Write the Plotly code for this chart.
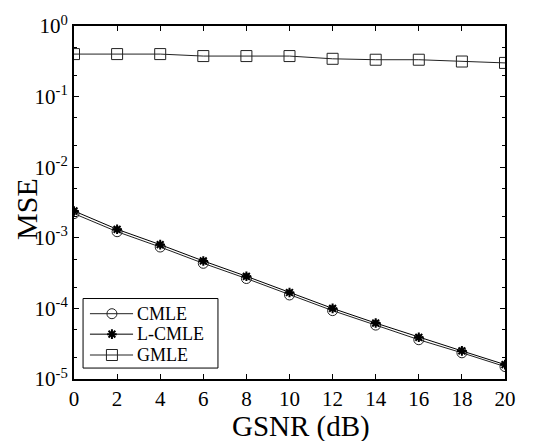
import plotly.graph_objects as go

gsnr = [0, 2, 4, 6, 8, 10, 12, 14, 16, 18, 20]
cmle = [2.2e-3, 1.22e-3, 7.4e-4, 4.35e-4, 2.65e-4, 1.55e-4, 9.3e-5, 5.8e-5, 3.6e-5, 2.35e-5, 1.5e-5]
lcmle = [2.4e-3, 1.32e-3, 8.0e-4, 4.7e-4, 2.85e-4, 1.68e-4, 1.0e-4, 6.2e-5, 3.9e-5, 2.5e-5, 1.6e-5]
gmle = [0.40, 0.40, 0.40, 0.375, 0.375, 0.375, 0.343, 0.333, 0.333, 0.314, 0.30]

series_names = ["CMLE", "L-CMLE", "GMLE"]
y_tickvals = [1e-5, 1e-4, 1e-3, 1e-2, 1e-1, 1]
y_ticktext = ["10<sup>-5</sup>", "10<sup>-4</sup>", "10<sup>-3</sup>", "10<sup>-2</sup>", "10<sup>-1</sup>", "10<sup>0</sup>"]
x_tickvals = gsnr
x_title = "GSNR (dB)"
y_title = "MSE"

font = "Liberation Serif"

styles = [
    dict(line=dict(color="#222", width=1),
         marker=dict(symbol="circle-open", size=10, color="#222", line=dict(width=1))),
    dict(line=dict(color="#000", width=1),
         marker=dict(symbol="asterisk-open", size=8, color="#000", line=dict(width=2))),
    dict(line=dict(color="#222", width=1),
         marker=dict(symbol="square-open", size=11, color="#222", line=dict(width=1))),
]

fig = go.Figure()
for name, vals, st in zip(series_names, [cmle, lcmle, gmle], styles):
    fig.add_trace(go.Scatter(x=gsnr, y=vals, name=name, mode="lines+markers",
                             showlegend=False, **st))

# manual legend (samples drawn in an overlay axis spanning [0, 1])
leg_x0, leg_x1, leg_y0, leg_y1 = 0.021, 0.334, 0.031, 0.228
row_y = [0.185, 0.127, 0.068]
line_x = [0.037, 0.137]
mark_x = 0.088
text_x = 0.143

fig.add_shape(type="rect", xref="paper", yref="paper", x0=leg_x0, x1=leg_x1, y0=leg_y0, y1=leg_y1,
              line=dict(color="black", width=1), fillcolor="rgba(0,0,0,0)", layer="above")
for name, ry, st in zip(series_names, row_y, styles):
    fig.add_trace(go.Scatter(x=line_x, y=[ry, ry], mode="lines", line=st["line"],
                             xaxis="x2", yaxis="y2", showlegend=False, hoverinfo="skip"))
    fig.add_trace(go.Scatter(x=[mark_x], y=[ry], mode="markers", marker=st["marker"],
                             xaxis="x2", yaxis="y2", showlegend=False, hoverinfo="skip"))
    fig.add_annotation(x=text_x, y=ry, xref="paper", yref="paper", text=name, showarrow=False,
                       xanchor="left", yanchor="middle", borderpad=0,
                       font=dict(family=font, size=18, color="black"))

fig.add_annotation(x=0.527, y=-0.086, xref="paper", yref="paper", text=x_title, showarrow=False,
                   xanchor="center", yanchor="top", borderpad=0,
                   font=dict(family=font, size=29, color="black"))
fig.add_annotation(x=-0.109, y=0.482, xref="paper", yref="paper", text=y_title, showarrow=False,
                   textangle=-90, xanchor="center", yanchor="middle",
                   font=dict(family=font, size=30, color="black"))

fig.update_layout(
    width=545, height=441,
    margin=dict(l=74, r=40, t=24, b=62),
    paper_bgcolor="white", plot_bgcolor="white",
    font=dict(family=font, color="black", size=20),
    showlegend=False,
    xaxis=dict(range=[0, 20], tickvals=x_tickvals, showgrid=False, zeroline=False,
               showline=True, linecolor="black", linewidth=2, mirror="allticks",
               ticks="inside", ticklen=5, tickcolor="black",
               tickfont=dict(family=font, size=21)),
    yaxis=dict(type="log", range=[-5, 0], tickvals=y_tickvals, ticktext=y_ticktext,
               showgrid=False, zeroline=False,
               showline=True, linecolor="black", linewidth=2, mirror="allticks",
               ticks="inside", ticklen=5, tickcolor="black",
               minor=dict(ticks="inside", ticklen=3, tickcolor="black", showgrid=False),
               tickfont=dict(family=font, size=21)),
    xaxis2=dict(range=[0, 1], overlaying="x", anchor="y2", visible=False, fixedrange=True),
    yaxis2=dict(range=[0, 1], overlaying="y", anchor="x2", visible=False, fixedrange=True),
)

fig.write_html("out.html")
